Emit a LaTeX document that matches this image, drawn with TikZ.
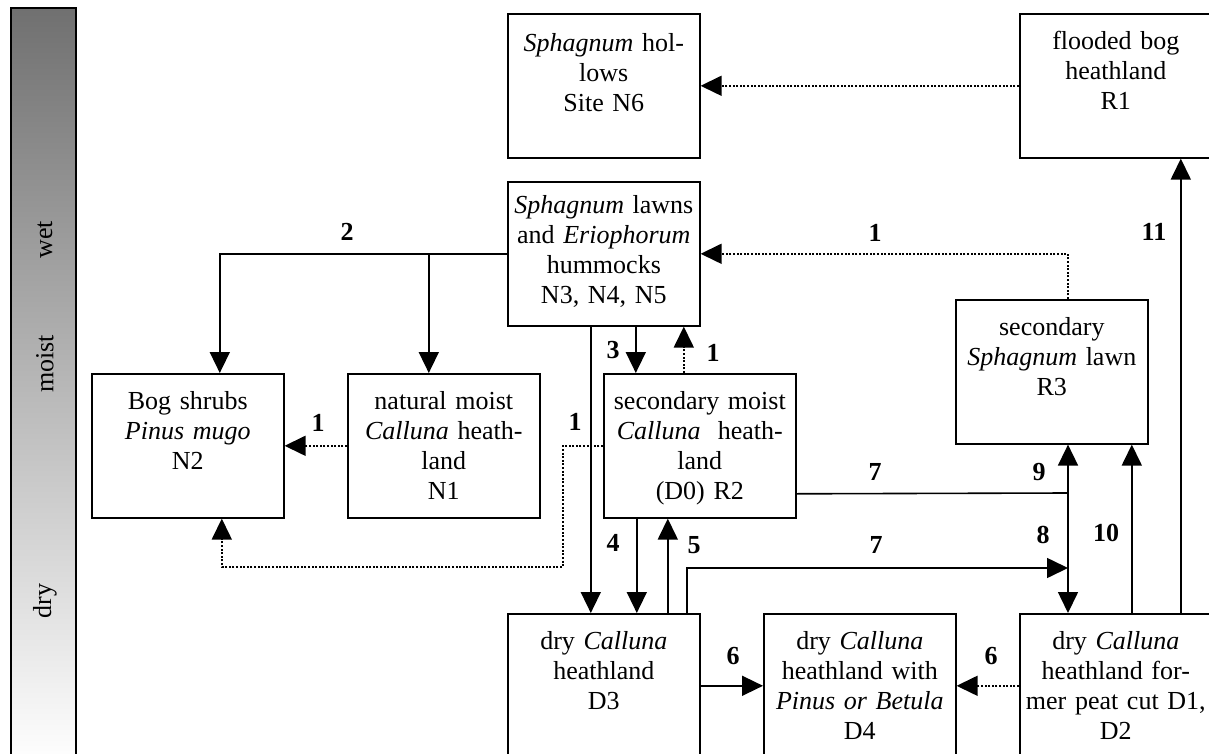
\documentclass[tikz,border=0pt]{standalone}
\usepackage{fontspec}
\setmainfont{Liberation Serif}
\usetikzlibrary{arrows.meta}
\definecolor{bartop}{RGB}{112,112,112}
\begin{document}
\begin{tikzpicture}[x=1pt,y=-1pt,
  box/.style={draw, line width=1.6pt, minimum width=192pt, minimum height=144pt, inner sep=0pt, anchor=north west},
  txt/.style={anchor=north, inner sep=0pt, text width=190pt, align=center, font=\fontsize{26}{30}\selectfont},
  num/.style={inner sep=0pt, font=\fontsize{26}{30}\selectfont\bfseries},
  conn/.style={line width=1.6pt},
  arr/.style={conn, -{Triangle[length=21pt,width=20pt]}},
  dotarr/.style={conn, dash pattern=on 2pt off 1.6pt, -{Triangle[length=21pt,width=20pt]}},
  barlbl/.style={rotate=90, font=\fontsize{26}{30}\selectfont, inner sep=0pt}
]
\useasboundingbox (0,0) rectangle (1209,754);

% moisture gradient bar
\draw[line width=1.6pt, top color=bartop, bottom color=white] (11,8) rectangle (76,764);
\node[barlbl] (wet) at (45,240) {wet};
\node[barlbl] (moist) at (45,364) {moist};
\node[barlbl] (dry) at (45,601) {dry};

% boxes
\node[box] (n6) at (507,13) {};
\node[box] (r1) at (1019,13) {};
\node[box] (n3) at (507,181) {};
\node[box] (r3) at (955,299) {};
\node[box] (n2) at (91,373) {};
\node[box] (n1) at (347,373) {};
\node[box] (r2) at (603,373) {};
\node[box] (d3) at (507,613) {};
\node[box] (d4) at (763,613) {};
\node[box] (d1) at (1019,613) {};

% box texts
\node[txt] (n6t) at ([yshift=-17pt]n6.north) {\strut\textit{Sphagnum} hol-\\lows\\Site N6};
\node[txt] (r1t) at ([yshift=-15pt]r1.north) {\strut flooded bog\\heathland\\R1};
\node[txt] (n3t) at ([yshift=-11pt]n3.north) {\strut\textit{Sphagnum} lawns\\and \textit{Eriophorum}\\hummocks\\N3, N4, N5};
\node[txt] (r3t) at ([yshift=-15pt]r3.north) {\strut secondary\\\textit{Sphagnum} lawn\\R3};
\node[txt] (n2t) at ([yshift=-15pt]n2.north) {\strut Bog shrubs\\\textit{Pinus mugo}\\N2};
\node[txt] (n1t) at ([yshift=-15pt]n1.north) {\strut natural moist\\\textit{Calluna} heath-\\land\\N1};
\node[txt] (r2t) at ([yshift=-15pt]r2.north) {\strut secondary moist\\\textit{Calluna}\ \ heath-\\land\\(D0) R2};
\node[txt] (d3t) at ([yshift=-15pt]d3.north) {\strut dry \textit{Calluna}\\heathland\\D3};
\node[txt] (d4t) at ([yshift=-15pt]d4.north) {\strut dry \textit{Calluna}\\heathland with\\\textit{Pinus or Betula}\\D4};
\node[txt] (d1t) at ([yshift=-15pt]d1.north) {\strut dry \textit{Calluna}\\heathland for-\\mer peat cut D1,\\D2};

% connectors
\draw[dotarr] (r1.west) -- (n6.east);
\draw[arr] (n3.west) -| ([xshift=32pt]n2.north);
\draw[arr] ([xshift=-15pt]n1.north |- n3.west) -- ([xshift=-15pt]n1.north);
\draw[dotarr] (n1.west) -- (n2.east);
\draw[dotarr] (r2.west) -- ++(-40,0) -- ++(0,121) -| ([xshift=34pt]n2.south);
\draw[arr] ([xshift=-13pt]n3.south) -- ([xshift=-13pt]d3.north);
\draw[arr] ([xshift=32pt]n3.south) -- ([xshift=32pt]n3.south |- r2.north);
\draw[dotarr] ([xshift=-16pt]r2.north) -- ([xshift=-16pt]r2.north |- n3.south);
\draw[arr] ([xshift=-63pt]r2.south) -- ([xshift=-63pt]r2.south |- d3.north);
\draw[arr] ([xshift=64pt]d3.north) -- ([xshift=64pt]d3.north |- r2.south);
\coordinate (j) at (1068,493);
\coordinate (k) at (1068,568);
\draw[conn] ([yshift=-48pt]r2.east) -- (j);
\draw[arr] (j) -- (j |- r3.south);
\draw[arr] (j) -- (j |- d1.north);
\draw[arr] ([xshift=83pt]d3.north) |- (k);
\draw[arr] ([xshift=16pt]d1.north) -- ([xshift=16pt]d1.north |- r3.south);
\draw[arr] ([xshift=65pt]d1.north) -- ([xshift=65pt]d1.north |- r1.south);
\draw[dotarr] ([xshift=16pt]r3.north) |- (n3.east);
\draw[arr] (d3.east) -- (d4.west);
\draw[dotarr] (d1.west) -- (d4.east);

% numeric labels
\node[num] (l2) at (347,232) {2};
\node[num] (l1a) at (318,423) {1};
\node[num] (l1b) at (575,422) {1};
\node[num] (l3) at (613,350) {3};
\node[num] (l1c) at (713,353) {1};
\node[num] (l1d) at (875,233) {1};
\node[num] (l11) at (1154,232) {11};
\node[num] (l7a) at (875,472) {7};
\node[num] (l9) at (1039,472) {9};
\node[num] (l4) at (613,543) {4};
\node[num] (l5) at (694,545) {5};
\node[num] (l7b) at (876,545) {7};
\node[num] (l8) at (1043,535) {8};
\node[num] (l10) at (1106,533) {10};
\node[num] (l6a) at (733,656) {6};
\node[num] (l6b) at (991,656) {6};
\end{tikzpicture}
\end{document}
